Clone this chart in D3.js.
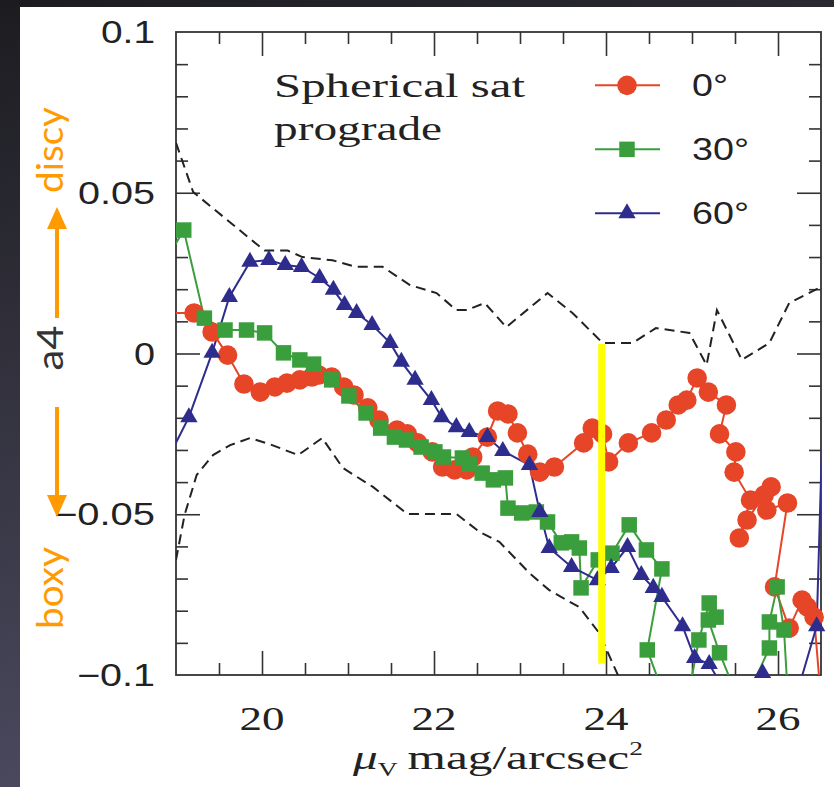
<!DOCTYPE html>
<html><head><meta charset="utf-8">
<script src="https://cdn.jsdelivr.net/npm/d3@7"></script>
<style>html,body{margin:0;padding:0;background:#2a2a30;} svg{display:block}</style>
</head><body>
<svg id="chart" width="834" height="787"></svg>
<script>
// ---- data ----
const mu0  = [18.95,19.21,19.42,19.60,19.79,19.98,20.15,20.29,20.44,20.58,20.66,20.81,20.95,21.07,21.23,21.36,21.57,21.69,21.81,21.98,22.10,22.24,22.38,22.45,22.62,22.74,22.86,22.97,23.09,23.23,23.40,23.74,23.84,23.96,24.03,24.26,24.53,24.70,24.84,24.94,25.06,25.19,25.40,25.32,25.51,25.49,25.68,25.55,25.64,25.84,25.92,25.87,26.11,25.96,26.13,26.28,26.34,26.42,26.50];
const a4_0 = [0.0126,0.0126,0.0067,-0.0005,-0.0095,-0.0120,-0.0104,-0.0092,-0.0082,-0.0073,-0.0067,-0.0073,-0.0104,-0.0129,-0.0169,-0.0207,-0.0238,-0.0250,-0.0278,-0.0306,-0.0353,-0.0362,-0.0362,-0.0322,-0.0260,-0.0179,-0.0188,-0.0247,-0.0313,-0.0369,-0.0353,-0.0278,-0.0232,-0.0250,-0.0337,-0.0278,-0.0247,-0.0207,-0.0160,-0.0145,-0.0076,-0.0120,-0.0160,-0.0250,-0.0306,-0.0369,-0.0456,-0.0574,-0.0518,-0.0440,-0.0415,-0.0487,-0.0465,-0.0726,-0.0854,-0.0767,-0.0788,-0.0820,-0.1078];

const mu30  = [18.90,19.09,19.33,19.57,19.82,20.03,20.25,20.44,20.60,20.81,21.01,21.21,21.38,21.54,21.68,21.85,22.01,22.11,22.33,22.41,22.56,22.69,22.83,22.86,23.02,23.19,23.32,23.48,23.60,23.69,23.71,23.91,24.07,24.27,24.47,24.65,24.48,24.86,25.08,25.20,25.28,25.19,25.32,25.58,25.90,25.90,25.99,26.07,26.13];
const a4_30 = [0.0297,0.0384,0.0110,0.0073,0.0073,0.0064,0.0002,-0.0020,-0.0033,-0.0082,-0.0132,-0.0185,-0.0232,-0.0260,-0.0269,-0.0291,-0.0306,-0.0322,-0.0325,-0.0344,-0.0372,-0.0393,-0.0387,-0.0481,-0.0496,-0.0493,-0.0524,-0.0589,-0.0586,-0.0605,-0.0729,-0.0642,-0.0621,-0.0533,-0.0611,-0.0670,-0.0922,-0.1199,-0.0891,-0.0776,-0.0820,-0.0829,-0.0931,-0.1103,-0.0916,-0.0835,-0.0726,-0.0860,-0.1140];

const mu60  = [18.90,19.15,19.42,19.62,19.86,20.08,20.27,20.46,20.67,20.83,20.96,21.10,21.28,21.49,21.62,21.78,21.97,22.09,22.26,22.41,22.62,22.80,23.11,23.23,23.34,23.60,23.90,24.06,24.25,24.41,24.55,24.65,24.89,25.03,25.20,25.51,25.82,26.13,26.45,26.55];
const a4_60 = [-0.0331,-0.0198,0.0002,0.0176,0.0285,0.0291,0.0275,0.0269,0.0235,0.0198,0.0151,0.0126,0.0089,0.0033,-0.0026,-0.0082,-0.0145,-0.0198,-0.0229,-0.0244,-0.0260,-0.0303,-0.0347,-0.0493,-0.0605,-0.0664,-0.0705,-0.0667,-0.0602,-0.0689,-0.0729,-0.0757,-0.0848,-0.0947,-0.0966,-0.1109,-0.0994,-0.1140,-0.0848,0.0073];

const upperMu = [19.0,19.2,20.03,20.3,20.47,20.82,21.08,21.4,21.72,22.03,22.26,22.38,22.59,22.84,23.32,23.61,23.96,24.31,24.58,24.97,25.17,25.29,25.58,25.90,26.13,26.5];
const upperA4 = [0.0655,0.0502,0.032,0.032,0.030,0.029,0.027,0.027,0.0213,0.0188,0.0135,0.0135,0.0157,0.0082,0.0188,0.0126,0.0033,0.0033,0.0079,0.0064,-0.0036,0.0135,-0.002,0.0033,0.0157,0.0207];
const lowerMu = [19.0,19.10,19.24,19.43,19.63,19.86,20.09,20.42,20.70,20.94,21.29,21.69,22.26,22.53,22.76,23.11,23.34,23.69,23.92,24.15];
const lowerA4 = [-0.0642,-0.0502,-0.0378,-0.0316,-0.0285,-0.0263,-0.0282,-0.0316,-0.0263,-0.0356,-0.0415,-0.0499,-0.0499,-0.0555,-0.0586,-0.0683,-0.0736,-0.0789,-0.0869,-0.1007];

const seriesNames = ["0°","30°","60°"];
const xTicksMajor = [20,22,24,26];
const yTicksMajor = [-0.1,-0.05,0,0.05,0.1];
const yTickLabels = ["\u22120.1","\u22120.05","0","0.05","0.1"];
const markMu = 23.95, markTop = 0.003, markBottom = -0.0965;

// ---- layout ----
const W=834,H=787;
const L=176,R=821,T=32,B=675;
const svg=d3.select('#chart');
const defs=svg.append('defs');
const grad=defs.append('linearGradient').attr('id','bg').attr('x1',0).attr('y1',0).attr('x2',0.3).attr('y2',1);
grad.append('stop').attr('offset','0%').attr('stop-color','#1c1c20');
grad.append('stop').attr('offset','100%').attr('stop-color','#4e4c62');
svg.append('rect').attr('width',W).attr('height',H).attr('fill','url(#bg)');
svg.append('rect').attr('x',20).attr('y',7).attr('width',W-20).attr('height',H-7).attr('fill','#fff');

defs.append('clipPath').attr('id','clip').append('rect').attr('x',L).attr('y',T).attr('width',R-L).attr('height',B-T);

const x=d3.scaleLinear().domain([19,26.5]).range([L,R]);
const y=d3.scaleLinear().domain([-0.1,0.1]).range([B,T]);

const axisColor='#333';
function styleAxis(g){ g.select('.domain').remove(); g.selectAll('line').attr('stroke',axisColor).attr('stroke-width',1.6); g.selectAll('text').remove(); }
const xMinor=d3.range(19.5,26.5,0.5).filter(v=>!xTicksMajor.includes(v));
const yMinor=d3.range(-9,10).map(v=>v/100).filter(v=>Math.abs(v*100)%5!==0);
svg.append('g').attr('transform',`translate(0,${B})`).call(d3.axisBottom(x).tickValues(xTicksMajor).tickSizeInner(-24).tickSizeOuter(0)).call(styleAxis);
svg.append('g').attr('transform',`translate(0,${B})`).call(d3.axisBottom(x).tickValues(xMinor).tickSizeInner(-12).tickSizeOuter(0)).call(styleAxis);
svg.append('g').attr('transform',`translate(0,${T})`).call(d3.axisTop(x).tickValues(xTicksMajor).tickSizeInner(-24).tickSizeOuter(0)).call(styleAxis);
svg.append('g').attr('transform',`translate(0,${T})`).call(d3.axisTop(x).tickValues(xMinor).tickSizeInner(-12).tickSizeOuter(0)).call(styleAxis);
svg.append('g').attr('transform',`translate(${L},0)`).call(d3.axisLeft(y).tickValues([-0.05,0,0.05]).tickSizeInner(-24).tickSizeOuter(0)).call(styleAxis);
svg.append('g').attr('transform',`translate(${L},0)`).call(d3.axisLeft(y).tickValues(yMinor).tickSizeInner(-12).tickSizeOuter(0)).call(styleAxis);
svg.append('g').attr('transform',`translate(${R},0)`).call(d3.axisRight(y).tickValues([-0.05,0,0.05]).tickSizeInner(-24).tickSizeOuter(0)).call(styleAxis);
svg.append('g').attr('transform',`translate(${R},0)`).call(d3.axisRight(y).tickValues(yMinor).tickSizeInner(-12).tickSizeOuter(0)).call(styleAxis);

// tick labels (start-anchored so the stretched width stays exact)
const yLabW={"\u22120.1":78,"\u22120.05":101,"0":21,"0.05":77,"0.1":54};
yTicksMajor.forEach((v,i)=>{
  const t=yTickLabels[i], w=yLabW[t];
  svg.append('text').attr('x',155-w).attr('y',y(v)+11)
    .attr('font-family','Liberation Sans, Arial, sans-serif').attr('font-size',31).attr('fill','#222')
    .attr('textLength',w).attr('lengthAdjust','spacingAndGlyphs').text(t);
});
xTicksMajor.forEach(v=>{
  svg.append('text').attr('x',x(v)-22.5).attr('y',730)
    .attr('font-family','Liberation Serif, serif').attr('font-size',33).attr('fill','#222')
    .attr('textLength',45).attr('lengthAdjust','spacingAndGlyphs').text(String(v));
});
// x title
const title=svg.append('text').attr('transform','translate(498,769) scale(1.45,1)').attr('text-anchor','middle')
  .attr('font-family','Liberation Serif, serif').attr('font-size',34).attr('fill','#222');
title.append('tspan').attr('font-style','italic').text('\u03bc');
title.append('tspan').attr('font-size',19).attr('dy',7).text('V');
title.append('tspan').attr('dy',-7).text('\u2009mag/arcsec');
title.append('tspan').attr('font-size',19).attr('dy',-14).text('2');

// frame
svg.append('rect').attr('x',L).attr('y',T).attr('width',R-L).attr('height',B-T).attr('fill','none').attr('stroke',axisColor).attr('stroke-width',1.8);

// plot content
const plot=svg.append('g');
const clipped=plot.append('g').attr('clip-path','url(#clip)');
const line=d3.line().x(d=>x(d[0])).y(d=>y(d[1]));
const zip=(a,b)=>a.map((v,i)=>[v,b[i]]);
[[upperMu,upperA4],[lowerMu,lowerA4]].forEach(([m,a])=>{
  clipped.append('path').attr('d',line(zip(m,a))).attr('fill','none').attr('stroke','#222').attr('stroke-width',2).attr('stroke-dasharray','10,6');
});
const series=[
  {mu:mu0,a4:a4_0,color:'#e64527',sym:d3.symbolCircle,size:Math.PI*9.8*9.8},
  {mu:mu30,a4:a4_30,color:'#3b9e3d',sym:d3.symbolSquare,size:15.5*15.5},
  {mu:mu60,a4:a4_60,color:'#2e2d8d',sym:d3.symbolTriangle,size:130}
];
const inDomain=d=>d[0]>=19&&d[0]<=26.5&&d[1]>=-0.1&&d[1]<=0.1;
series.forEach(s=>{
  const pts=zip(s.mu,s.a4);
  clipped.append('path').attr('d',line(pts)).attr('fill','none').attr('stroke',s.color).attr('stroke-width',2);
  plot.append('g').selectAll('path').data(pts.filter(inDomain)).join('path')
    .attr('transform',d=>`translate(${x(d[0])},${y(d[1])})`)
    .attr('d',d3.symbol(s.sym,s.size)).attr('fill',s.color);
});

// legend
const legY=[0.0834,0.0635,0.0436];
series.forEach((s,i)=>{
  const ly=y(legY[i]);
  svg.append('line').attr('x1',595).attr('x2',660).attr('y1',ly).attr('y2',ly).attr('stroke',s.color).attr('stroke-width',2);
  svg.append('path').attr('transform',`translate(627,${ly})`).attr('d',d3.symbol(s.sym,s.size)).attr('fill',s.color);
  svg.append('text').attr('x',692).attr('y',ly+11).attr('font-family','Liberation Sans, Arial, sans-serif').attr('font-size',31).attr('fill','#222')
    .attr('textLength',i===0?36:57).attr('lengthAdjust','spacingAndGlyphs').text(seriesNames[i]);
});
svg.append('text').attr('x',274).attr('y',97).attr('font-family','Liberation Serif, serif').attr('font-size',34).attr('fill','#222')
  .attr('textLength',251).attr('lengthAdjust','spacingAndGlyphs').text('Spherical sat');
svg.append('text').attr('x',274).attr('y',140).attr('font-family','Liberation Serif, serif').attr('font-size',34).attr('fill','#222')
  .attr('textLength',168).attr('lengthAdjust','spacingAndGlyphs').text('prograde');

// yellow marker line
svg.append('line').attr('x1',x(markMu)).attr('x2',x(markMu)).attr('y1',y(markTop)).attr('y2',y(markBottom))
  .attr('stroke','#ffff00').attr('stroke-width',7);

// left annotations (rotated, start-anchored)
const orange='#ff9a00';
function vtext(cx,cy,txt,len,col){
  svg.append('text').attr('transform',`translate(${cx},${cy+len/2}) rotate(-90)`)
    .attr('font-family','Lato, Open Sans, sans-serif').attr('font-size',37).attr('fill',col)
    .attr('textLength',len).attr('lengthAdjust','spacingAndGlyphs').text(txt);
}
vtext(63,150,'discy',86,orange);
vtext(63,348,'a4',45,'#333333');
vtext(63,588,'boxy',82,orange);
// arrows
svg.append('line').attr('x1',57).attr('x2',57).attr('y1',318).attr('y2',224).attr('stroke',orange).attr('stroke-width',4);
svg.append('path').attr('d','M57,207 L47,229 L67,229 Z').attr('fill',orange);
svg.append('line').attr('x1',57).attr('x2',57).attr('y1',407).attr('y2',500).attr('stroke',orange).attr('stroke-width',4);
svg.append('path').attr('d','M57,517 L47,495 L67,495 Z').attr('fill',orange);
</script>
</body></html>
